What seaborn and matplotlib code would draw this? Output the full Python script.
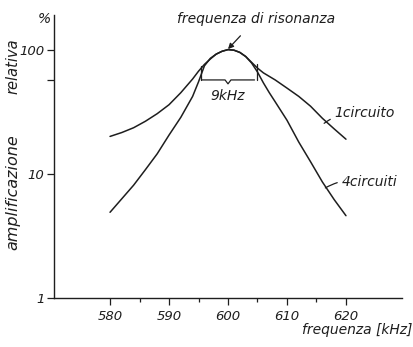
import matplotlib
matplotlib.use("Agg")
import matplotlib.pyplot as plt
import matplotlib.ticker as mticker
import numpy as np
import pandas as pd
import seaborn as sns

# ---- data ----
freq_1 = [580, 582, 584, 586, 588, 590, 592, 594, 595, 596, 597, 598, 599, 600,
          601, 602, 603, 604, 605, 606, 608, 610, 612, 614, 616, 618, 620]
amp_1 = [20, 21.5, 23.5, 26.5, 30.5, 36, 45, 58, 67, 76, 84, 92, 97, 100,
         99, 95, 88, 79, 71, 65, 57, 49, 42, 35, 28, 23, 19]
freq_4 = [580, 582, 584, 586, 588, 590, 592, 594, 595, 596, 597, 598, 599, 600,
          601, 602, 603, 604, 605, 606, 607, 608, 610, 612, 614, 616, 618, 620]
amp_4 = [4.9, 6.3, 8.1, 10.8, 14.5, 20.5, 28.5, 42, 55, 74, 85, 92, 97, 100,
         99, 95, 88, 78, 66, 54, 45, 38, 27, 18, 12.5, 8.6, 6.2, 4.6]
series_names = ["1circuito", "4circuiti"]
x_ticks = [580, 590, 600, 610, 620]
x_minor = [585, 595, 605, 615]
y_ticks = [1, 10, 100]
y_tick_labels = ["1", "10", "100"]
y_minor = [57]
bw_lo, bw_hi, bw_level = 595.5, 604.5, 57
res_freq = 600

df = pd.concat([
    pd.DataFrame({"f": freq_1, "a": amp_1, "s": series_names[0]}),
    pd.DataFrame({"f": freq_4, "a": amp_4, "s": series_names[1]}),
])

sns.set_style("ticks")
plt.rcParams["font.family"] = ["DejaVu Sans"]
ink = "#1e1e1e"

fig = plt.figure(figsize=(4.14, 3.47), dpi=100)
ax = fig.add_axes([54 / 414, 1 - 298 / 347, (402 - 54) / 414, (298 - 15) / 347])

sns.lineplot(data=df, x="f", y="a", hue="s", palette=[ink, ink], ax=ax,
             legend=False, linewidth=1.1, sort=True, estimator=None)

ax.set_yscale("log")
ax.set_xlim(570.5, 629.5)
ax.set_ylim(1, 190)

ax.set_xticks(x_ticks)
ax.set_xticks(x_minor, minor=True)
ax.xaxis.set_minor_formatter(mticker.NullFormatter())
ax.set_yticks(y_ticks)
ax.set_yticklabels(y_tick_labels)
ax.yaxis.set_minor_locator(mticker.FixedLocator(y_minor))
ax.yaxis.set_minor_formatter(mticker.NullFormatter())

for lab in ax.get_xticklabels() + ax.get_yticklabels():
    lab.set_fontstyle("italic")
    lab.set_fontsize(9.5)
    lab.set_color(ink)

ax.tick_params(axis="both", which="major", direction="out", length=5, width=0.9,
               colors=ink, pad=2)
ax.tick_params(axis="x", which="major", pad=4)
ax.tick_params(axis="x", which="minor", direction="out", length=3, width=0.9, colors=ink)
ax.tick_params(axis="y", which="minor", direction="out", length=5, width=0.9, colors=ink)

for side in ["top", "right"]:
    ax.spines[side].set_visible(False)
for side in ["left", "bottom"]:
    ax.spines[side].set_linewidth(1.0)
    ax.spines[side].set_color(ink)

ax.set_xlabel("")
ax.set_ylabel("")

# axis labels
fig.text(412 / 414, 1 - 330 / 347, "frequenza [kHz]", ha="right", va="center",
         fontstyle="italic", fontsize=10, color=ink)
fig.text(13 / 414, 1 - 66 / 347, "relativa", rotation=90, ha="center", va="center",
         fontstyle="italic", fontsize=10.5, color=ink)
fig.text(13 / 414, 1 - 192 / 347, "amplificazione", rotation=90, ha="center", va="center",
         fontstyle="italic", fontsize=11.5, color=ink)
fig.text(44 / 414, 1 - 19 / 347, "%", ha="center", va="center",
         fontstyle="italic", fontsize=10, color=ink)

# annotations
ax.annotate("frequenza di risonanza", xy=(res_freq, 101), xytext=(604.7, 175),
            ha="center", va="center", fontstyle="italic", fontsize=10, color=ink,
            arrowprops=dict(arrowstyle="-|>", color=ink, lw=0.9, mutation_scale=8,
                            shrinkA=6, shrinkB=0))

# 9 kHz bracket
bx = [bw_lo, res_freq - 0.5, res_freq, res_freq + 0.5, bw_hi]
by = [bw_level, bw_level, bw_level * 0.93, bw_level, bw_level]
ax.plot(bx, by, color=ink, lw=0.9)
ax.plot([bw_lo, bw_lo], [bw_level, 74], color=ink, lw=0.9)
ax.plot([bw_hi + 0.4, bw_hi + 0.4], [bw_level, 76], color=ink, lw=0.9)
ax.text(res_freq, 42, "9kHz", ha="center", va="center", fontstyle="italic",
        fontsize=10, color=ink)

ax.annotate(series_names[0], xy=(616.3, 25.5), xytext=(618.1, 31),
            ha="left", va="center", fontstyle="italic", fontsize=10, color=ink,
            arrowprops=dict(arrowstyle="-", color=ink, lw=0.9,
                            connectionstyle="arc3,rad=0.2", shrinkA=1, shrinkB=0))
ax.annotate(series_names[1], xy=(616.5, 7.7), xytext=(619.3, 8.6),
            ha="left", va="center", fontstyle="italic", fontsize=10, color=ink,
            arrowprops=dict(arrowstyle="-", color=ink, lw=0.9,
                            connectionstyle="arc3,rad=0.2", shrinkA=1, shrinkB=0))

fig.savefig("out.png", dpi=100, facecolor="white")
